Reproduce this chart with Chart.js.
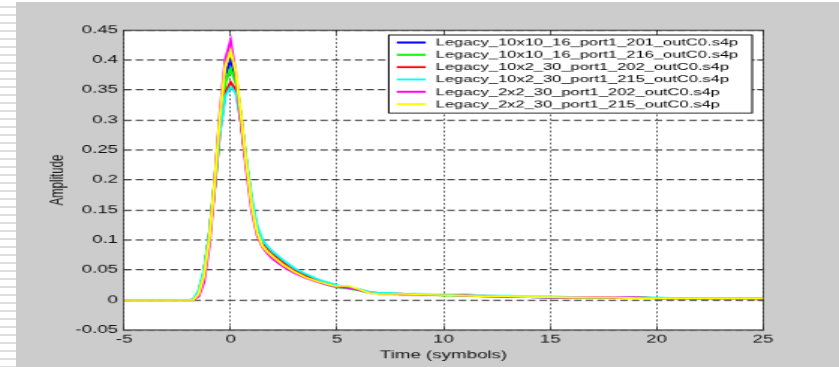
<!DOCTYPE html>
<html lang="en">
<head>
    <meta charset="UTF-8">
    <title>Pulse response - Amplitude vs Time</title>
    <script src="https://cdn.jsdelivr.net/npm/chart.js@4/dist/chart.umd.min.js"></script>
    <style>
        html, body {
            margin: 0;
            padding: 0;
            width: 839px;
            height: 367px;
            overflow: hidden;
            background: repeating-linear-gradient(to bottom, #ffffff 0px, #ffffff 6px, #dedede 6px, #dedede 8px);
        }
        #panel {
            position: absolute;
            left: 16px;
            top: 2px;
            right: 0;
            bottom: 0;
            background: #cccccc;
        }
        #pulseChart {
            position: absolute;
            left: 0;
            top: 0;
        }
    </style>
</head>
<body>
    <div id="panel"></div>
    <!-- the figure is drawn at 560x420 and stretched to the window, like the original screenshot -->
    <canvas id="pulseChart" width="560" height="420" style="width: 839px; height: 367px;"></canvas>

    <script>
        // time axis in symbols
        const time = [-5, -2, -1.75, -1.5, -1.25, -1, -0.75, -0.5, -0.25, 0,
            0.25, 0.5, 0.75, 1, 1.25, 1.5, 1.75, 2,
            2.5, 3, 3.5, 4, 4.5, 5, 5.5, 6, 6.5, 7, 7.5, 8,
            9, 10, 11, 12, 13, 14, 15, 16, 17, 18, 19, 20, 21, 22, 23, 24, 25];

        const legacy10x10_201 = [0, 0, 0, 0.012, 0.045, 0.105, 0.195, 0.30, 0.375, 0.40,
            0.37, 0.30, 0.225, 0.158, 0.116, 0.094, 0.084, 0.075,
            0.061, 0.049, 0.040, 0.033, 0.027, 0.022, 0.020, 0.018, 0.013, 0.011, 0.011, 0.010,
            0.009, 0.008, 0.007, 0.006, 0.006, 0.005, 0.004, 0.004, 0.004, 0.004, 0.004, 0.003, 0.003, 0.003, 0.003, 0.003, 0.003];
        const legacy10x10_216 = [0, 0, 0, 0.012, 0.045, 0.105, 0.19, 0.29, 0.362, 0.385,
            0.362, 0.298, 0.225, 0.158, 0.116, 0.094, 0.084, 0.075,
            0.060, 0.048, 0.039, 0.032, 0.026, 0.021, 0.019, 0.016, 0.012, 0.010, 0.010, 0.009,
            0.009, 0.007, 0.007, 0.006, 0.005, 0.005, 0.004, 0.004, 0.004, 0.005, 0.005, 0.003, 0.003, 0.002, 0.003, 0.003, 0.003];
        const legacy10x2_202 = [0, 0, 0, 0.013, 0.046, 0.105, 0.188, 0.282, 0.345, 0.363,
            0.35, 0.295, 0.225, 0.16, 0.118, 0.096, 0.085, 0.076,
            0.062, 0.050, 0.041, 0.034, 0.028, 0.023, 0.021, 0.018, 0.013, 0.012, 0.011, 0.011,
            0.009, 0.008, 0.009, 0.007, 0.006, 0.005, 0.005, 0.004, 0.005, 0.004, 0.005, 0.003, 0.003, 0.003, 0.003, 0.003, 0.003];
        const legacy10x2_215 = [0, 0, 0.002, 0.016, 0.05, 0.108, 0.19, 0.28, 0.34, 0.355,
            0.345, 0.298, 0.232, 0.168, 0.124, 0.10, 0.089, 0.08,
            0.066, 0.053, 0.044, 0.036, 0.030, 0.025, 0.021, 0.018, 0.014, 0.012, 0.012, 0.011,
            0.010, 0.009, 0.008, 0.007, 0.007, 0.006, 0.006, 0.005, 0.005, 0.005, 0.004, 0.004, 0.003, 0.003, 0.003, 0.003, 0.003];
        const legacy2x2_202 = [0, 0, 0, 0.006, 0.03, 0.09, 0.19, 0.31, 0.40, 0.432,
            0.375, 0.295, 0.215, 0.148, 0.108, 0.088, 0.077, 0.068,
            0.055, 0.045, 0.037, 0.031, 0.026, 0.022, 0.020, 0.017, 0.012, 0.010, 0.010, 0.009,
            0.008, 0.008, 0.007, 0.006, 0.005, 0.005, 0.004, 0.004, 0.005, 0.005, 0.004, 0.003, 0.003, 0.003, 0.003, 0.003, 0.003];
        const legacy2x2_215 = [0, 0, 0, 0.010, 0.04, 0.10, 0.195, 0.305, 0.39, 0.415,
            0.38, 0.305, 0.225, 0.155, 0.112, 0.09, 0.08, 0.072,
            0.058, 0.047, 0.038, 0.032, 0.027, 0.023, 0.024, 0.018, 0.012, 0.010, 0.010, 0.010,
            0.009, 0.008, 0.007, 0.006, 0.006, 0.005, 0.005, 0.004, 0.004, 0.004, 0.003, 0.003, 0.003, 0.003, 0.003, 0.003, 0.003];

        const seriesNames = [
            'Legacy_10x10_16_port1_201_outC0.s4p',
            'Legacy_10x10_16_port1_216_outC0.s4p',
            'Legacy_10x2_30_port1_202_outC0.s4p',
            'Legacy_10x2_30_port1_215_outC0.s4p',
            'Legacy_2x2_30_port1_202_outC0.s4p',
            'Legacy_2x2_30_port1_215_outC0.s4p'
        ];
        const seriesValues = [legacy10x10_201, legacy10x10_216, legacy10x2_202, legacy10x2_215, legacy2x2_202, legacy2x2_215];
        const seriesColors = ['#0000ff', '#00ff00', '#ff0000', '#00ffff', '#ff00ff', '#ffff00'];

        const FONT = "'Liberation Sans', Arial, Helvetica, sans-serif";
        const AXIS_COLOR = '#2e2e2e';

        function formatTick(value) {
            return String(+value.toFixed(2));
        }

        // white plot area
        const plotBackground = {
            id: 'plotBackground',
            beforeDraw(chart) {
                const { ctx, chartArea } = chart;
                ctx.save();
                ctx.fillStyle = '#ffffff';
                ctx.fillRect(chartArea.left, chartArea.top, chartArea.right - chartArea.left, chartArea.bottom - chartArea.top);
                ctx.restore();
            }
        };

        // boxed legend in the upper right corner of the axes
        const boxLegend = {
            id: 'boxLegend',
            afterDatasetsDraw(chart) {
                const { ctx, chartArea } = chart;
                const datasets = chart.data.datasets;
                ctx.save();
                ctx.font = '11px ' + FONT;
                let textWidth = 0;
                datasets.forEach(ds => { textWidth = Math.max(textWidth, ctx.measureText(ds.label).width); });
                const padLeft = 5.4, lineLen = 19.3, gap = 6.7, padRight = 9.3;
                const rowH = 14.1, firstRow = 8.6;
                const w = padLeft + lineLen + gap + textWidth + padRight;
                const h = firstRow + rowH * (datasets.length - 1) + 10.2;
                const left = chartArea.right - 7.3 - w;
                const top = chartArea.top + 5.7;

                ctx.fillStyle = '#ffffff';
                ctx.fillRect(left, top, w, h);
                ctx.strokeStyle = '#000000';
                ctx.lineWidth = 1;
                ctx.strokeRect(left, top, w, h);

                ctx.textBaseline = 'middle';
                ctx.textAlign = 'left';
                datasets.forEach((ds, i) => {
                    const y = top + firstRow + i * rowH;
                    ctx.strokeStyle = ds.borderColor;
                    ctx.lineWidth = 2.3;
                    ctx.beginPath();
                    ctx.moveTo(left + padLeft, y);
                    ctx.lineTo(left + padLeft + lineLen, y);
                    ctx.stroke();
                    ctx.fillStyle = '#000000';
                    ctx.fillText(ds.label, left + padLeft + lineLen + gap, y + 0.5);
                });
                ctx.restore();
            }
        };

        function createChart() {
            const ctx = document.getElementById('pulseChart').getContext('2d');

            const datasets = seriesValues.map((values, i) => ({
                label: seriesNames[i],
                data: time.map((t, k) => ({ x: t, y: values[k] })),
                borderColor: seriesColors[i],
                backgroundColor: seriesColors[i],
                borderWidth: 2,
                pointRadius: 0,
                tension: 0,
                fill: false,
                // later series are drawn on top, as in the original plot
                order: seriesValues.length - 1 - i
            }));

            new Chart(ctx, {
                type: 'line',
                data: { datasets: datasets },
                options: {
                    responsive: false,
                    devicePixelRatio: 1,
                    animation: false,
                    events: [],
                    layout: {
                        padding: { left: 0, top: 34.3, right: 50.7, bottom: 0 }
                    },
                    plugins: {
                        legend: { display: false },
                        tooltip: { enabled: false }
                    },
                    scales: {
                        x: {
                            type: 'linear',
                            position: 'bottom',
                            min: -5,
                            max: 25,
                            afterFit: s => { s.height = 42.3; },
                            ticks: {
                                stepSize: 5,
                                padding: 8.5,
                                maxRotation: 0,
                                color: '#111111',
                                font: { family: FONT, size: 12.5 }
                            },
                            grid: {
                                color: AXIS_COLOR,
                                lineWidth: 0.75,
                                tickLength: -5,
                                tickWidth: 0.75
                            },
                            border: { display: true, color: AXIS_COLOR, width: 1.15, dash: [2.3, 2.3] },
                            title: {
                                display: true,
                                text: 'Time (symbols)',
                                color: '#111111',
                                font: { family: FONT, size: 12.5 },
                                padding: { top: 0, bottom: 6.2 }
                            }
                        },
                        x2: {
                            type: 'linear',
                            position: 'top',
                            min: -5,
                            max: 25,
                            afterFit: s => { s.height = 0; },
                            ticks: { display: false, stepSize: 5 },
                            grid: {
                                drawOnChartArea: false,
                                color: AXIS_COLOR,
                                lineWidth: 0.75,
                                tickLength: -5
                            },
                            border: { display: true, color: AXIS_COLOR, width: 1.15 }
                        },
                        y: {
                            type: 'linear',
                            position: 'left',
                            min: -0.05,
                            max: 0.45,
                            afterFit: s => { s.width = 82.8; },
                            ticks: {
                                stepSize: 0.05,
                                padding: 8,
                                color: '#111111',
                                font: { family: FONT, size: 12.5 },
                                callback: formatTick
                            },
                            grid: {
                                color: AXIS_COLOR,
                                lineWidth: 1.15,
                                tickLength: -4,
                                tickWidth: 1.15
                            },
                            border: { display: true, color: AXIS_COLOR, width: 0.75, dash: [5, 2.7] },
                            title: {
                                display: true,
                                text: 'Amplitude',
                                color: '#111111',
                                font: { family: FONT, size: 13 },
                                padding: { top: 30.2, bottom: 0 }
                            }
                        },
                        y2: {
                            type: 'linear',
                            position: 'right',
                            min: -0.05,
                            max: 0.45,
                            afterFit: s => { s.width = 0; },
                            ticks: { display: false, stepSize: 0.05 },
                            grid: {
                                drawOnChartArea: false,
                                color: AXIS_COLOR,
                                lineWidth: 1.15,
                                tickLength: -4
                            },
                            border: { display: true, color: AXIS_COLOR, width: 0.75 }
                        }
                    }
                },
                plugins: [plotBackground, boxLegend]
            });
        }

        createChart();
    </script>
</body>
</html>
